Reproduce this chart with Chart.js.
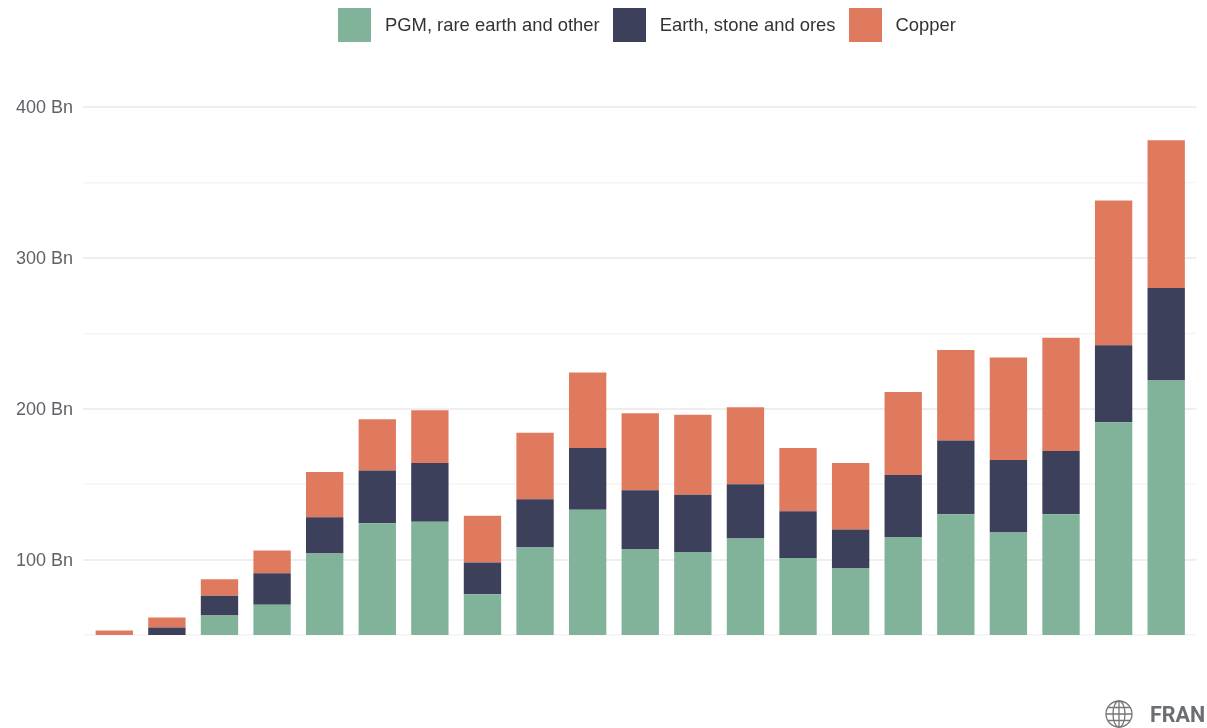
<!DOCTYPE html>
<html>
<head>
<meta charset="utf-8">
<script src="https://cdn.jsdelivr.net/npm/chart.js@4"></script>
<style>
    html, body { margin: 0; padding: 0; background: #fff; }
    #wrap { position: relative; width: 1207px; height: 728px; overflow: hidden; font-family: "Liberation Sans", Arial, sans-serif; }
    #legend { position: absolute; top: 8px; left: 338px; display: flex; height: 34px; align-items: center; font-size: 18.4px; color: #333; white-space: nowrap; }
    .legend-item { display: flex; align-items: center; margin-right: 13px; }
    .legend-box { width: 33px; height: 34px; margin-right: 14px; }
    #source { position: absolute; left: 1104px; top: 699px; display: flex; align-items: center; }
    #source span { margin-left: 16px; font: bold 21.5px Roboto, sans-serif; color: #6b6e72; }
</style>
</head>
<body>
<div id="wrap">
    <canvas id="chart" width="1207" height="728"></canvas>
    <div id="legend"></div>
    <div id="source">
        <svg width="30" height="30" viewBox="0 0 30 30" fill="none" stroke="#777" stroke-width="1.3">
            <circle cx="15" cy="15" r="13"/>
            <ellipse cx="15" cy="15" rx="6" ry="13"/>
            <path d="M15 2V28M2 15H28M4 8.5H26M4 21.5H26"/>
        </svg>
        <span>FRAN</span>
    </div>
</div>
<script>
const categories = ['1', '2', '3', '4', '5', '6', '7', '8', '9', '10', '11', '12', '13', '14', '15', '16', '17', '18', '19', '20', '21'];
const pgmValues = [30, 35, 63, 70, 104, 124, 125, 77, 108, 133, 107, 105, 114, 101, 94, 115, 130, 118, 130, 191, 219];
const earthValues = [15, 20, 13, 21, 24, 35, 39, 21, 32, 41, 39, 38, 36, 31, 26, 41, 49, 48, 42, 51, 61];
const copperValues = [8, 6.6, 11, 15, 30, 34, 35, 31, 44, 50, 51, 53, 51, 42, 44, 55, 60, 68, 75, 96, 98];
const seriesNames = ['PGM, rare earth and other', 'Earth, stone and ores', 'Copper'];
const seriesColors = ['#81B29A', '#3D405B', '#E07A5F'];
const labelledTicks = [100, 200, 300, 400];

// Legend needs a wider box-to-text gap than the built-in one allows
document.getElementById('legend').innerHTML = seriesNames.map((name, i) =>
    `<div class="legend-item"><div class="legend-box" style="background:${seriesColors[i]}"></div>${name}</div>`
).join('');

function gridColor(value) {
    return labelledTicks.includes(value) ? '#eeeeee' : '#f4f4f4';
}

function gridWidth(value) {
    return labelledTicks.includes(value) ? 2 : 1.5;
}

// Gridlines run a little past the last bar slot on the right
const gridOverhang = {
    id: 'gridOverhang',
    beforeDatasetsDraw: function (chart) {
        const ctx = chart.ctx;
        const scale = chart.scales.y;
        ctx.save();
        scale.ticks.forEach(tick => {
            const y = scale.getPixelForValue(tick.value);
            ctx.strokeStyle = gridColor(tick.value);
            ctx.lineWidth = gridWidth(tick.value);
            ctx.beginPath();
            ctx.moveTo(chart.chartArea.right, y);
            ctx.lineTo(chart.chartArea.right + 4, y);
            ctx.stroke();
        });
        ctx.restore();
    }
};

new Chart(document.getElementById('chart').getContext('2d'), {
    type: 'bar',
    data: {
        labels: categories,
        datasets: [pgmValues, earthValues, copperValues].map((values, i) => ({
            label: seriesNames[i],
            data: values,
            backgroundColor: seriesColors[i],
            borderWidth: 0,
            categoryPercentage: 1,
            barPercentage: 0.71
        }))
    },
    options: {
        responsive: false,
        animation: false,
        layout: { padding: { top: 107, right: 14.5, bottom: 93, left: 0 } },
        plugins: { legend: { display: false }, tooltip: { enabled: false } },
        scales: {
            x: {
                stacked: true,
                display: false
            },
            y: {
                stacked: true,
                min: 50,
                max: 400,
                afterFit: function (scale) { scale.width = 88; },
                border: { display: false },
                grid: {
                    color: ctx => gridColor(ctx.tick.value),
                    lineWidth: ctx => gridWidth(ctx.tick.value),
                    tickLength: 5
                },
                ticks: {
                    stepSize: 50,
                    padding: 10,
                    labelOffset: 1,
                    color: '#5f6368',
                    font: { family: 'Liberation Sans', size: 18 },
                    callback: value => labelledTicks.includes(value) ? value + ' Bn' : ''
                }
            }
        }
    },
    plugins: [gridOverhang]
});
</script>
</body>
</html>
